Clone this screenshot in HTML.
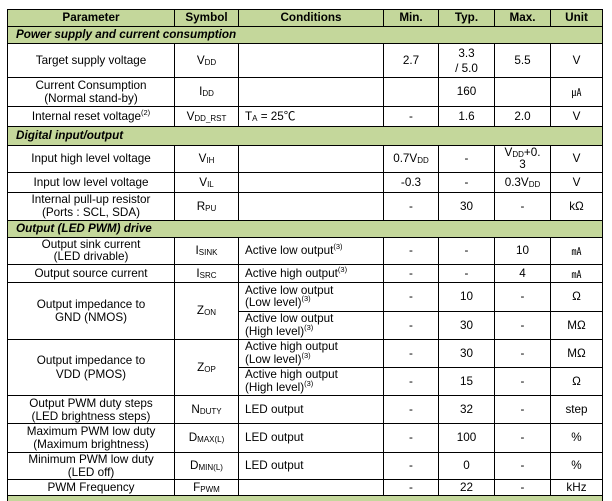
<!DOCTYPE html>
<html><head><meta charset="utf-8"><style>
html,body{margin:0;padding:0;background:#fff;}
#c{position:relative;width:612px;height:501px;overflow:hidden;background:#fff;}
.g{position:absolute;background:#c4d79b;}
.h{position:absolute;height:1px;background:#000;}
.v{position:absolute;width:1px;background:#000;}
.t{position:absolute;display:flex;align-items:center;justify-content:center;text-align:center;font-family:"Liberation Sans","Noto Sans CJK JP",sans-serif;font-size:11.7px;line-height:13.5px;color:#000;white-space:nowrap;}
.l{justify-content:flex-start;text-align:left;padding-left:6px;box-sizing:border-box;}
.b{font-weight:bold;}
.s{font-weight:bold;font-style:italic;justify-content:flex-start;padding-left:8px;box-sizing:border-box;}
sub{font-size:8px;vertical-align:-1px;line-height:0;}
sup{font-size:7.5px;vertical-align:5px;line-height:0;}
.u{font-family:"Noto Sans CJK JP",sans-serif;font-size:10px;}
</style></head><body><div id="c">
<!-- green fills -->
<div class="g" style="left:7px;top:9px;width:596px;height:17px"></div>
<div class="g" style="left:7px;top:26px;width:596px;height:17px"></div>
<div class="g" style="left:7px;top:126px;width:596px;height:19px"></div>
<div class="g" style="left:7px;top:220px;width:596px;height:17px"></div>
<div class="g" style="left:7px;top:495px;width:596px;height:6px"></div>
<!-- horizontal lines -->
<div class="h" style="left:7px;width:596px;top:9px"></div>
<div class="h" style="left:7px;width:596px;top:26px"></div>
<div class="h" style="left:7px;width:596px;top:43px"></div>
<div class="h" style="left:7px;width:596px;top:77px"></div>
<div class="h" style="left:7px;width:596px;top:106px"></div>
<div class="h" style="left:7px;width:596px;top:126px"></div>
<div class="h" style="left:7px;width:596px;top:145px"></div>
<div class="h" style="left:7px;width:596px;top:172px"></div>
<div class="h" style="left:7px;width:596px;top:192px"></div>
<div class="h" style="left:7px;width:596px;top:220px"></div>
<div class="h" style="left:7px;width:596px;top:237px"></div>
<div class="h" style="left:7px;width:596px;top:264px"></div>
<div class="h" style="left:7px;width:596px;top:282px"></div>
<div class="h" style="left:238px;width:365px;top:311px"></div>
<div class="h" style="left:7px;width:596px;top:339px"></div>
<div class="h" style="left:238px;width:365px;top:367px"></div>
<div class="h" style="left:7px;width:596px;top:395px"></div>
<div class="h" style="left:7px;width:596px;top:423px"></div>
<div class="h" style="left:7px;width:596px;top:452px"></div>
<div class="h" style="left:7px;width:596px;top:479px"></div>
<div class="h" style="left:7px;width:596px;top:495px"></div>
<!-- outer verticals -->
<div class="v" style="left:7px;top:9px;height:492px"></div>
<div class="v" style="left:602px;top:9px;height:492px"></div>
<!-- inner verticals -->
<div class="v" style="left:174px;top:9px;height:17px"></div>
<div class="v" style="left:238px;top:9px;height:17px"></div>
<div class="v" style="left:383px;top:9px;height:17px"></div>
<div class="v" style="left:438px;top:9px;height:17px"></div>
<div class="v" style="left:494px;top:9px;height:17px"></div>
<div class="v" style="left:550px;top:9px;height:17px"></div>

<div class="v" style="left:174px;top:43px;height:83px"></div>
<div class="v" style="left:238px;top:43px;height:83px"></div>
<div class="v" style="left:383px;top:43px;height:83px"></div>
<div class="v" style="left:438px;top:43px;height:83px"></div>
<div class="v" style="left:494px;top:43px;height:83px"></div>
<div class="v" style="left:550px;top:43px;height:83px"></div>

<div class="v" style="left:174px;top:145px;height:75px"></div>
<div class="v" style="left:238px;top:145px;height:75px"></div>
<div class="v" style="left:383px;top:145px;height:75px"></div>
<div class="v" style="left:438px;top:145px;height:75px"></div>
<div class="v" style="left:494px;top:145px;height:75px"></div>
<div class="v" style="left:550px;top:145px;height:75px"></div>

<div class="v" style="left:174px;top:237px;height:258px"></div>
<div class="v" style="left:238px;top:237px;height:258px"></div>
<div class="v" style="left:383px;top:237px;height:258px"></div>
<div class="v" style="left:438px;top:237px;height:258px"></div>
<div class="v" style="left:494px;top:237px;height:258px"></div>
<div class="v" style="left:550px;top:237px;height:258px"></div>

<!-- header -->
<div class="t b" style="left:8px;top:10px;width:166px;height:16px">Parameter</div>
<div class="t b" style="left:175px;top:10px;width:63px;height:16px">Symbol</div>
<div class="t b" style="left:239px;top:10px;width:144px;height:16px">Conditions</div>
<div class="t b" style="left:384px;top:10px;width:54px;height:16px">Min.</div>
<div class="t b" style="left:439px;top:10px;width:55px;height:16px">Typ.</div>
<div class="t b" style="left:495px;top:10px;width:55px;height:16px">Max.</div>
<div class="t b" style="left:551px;top:10px;width:51px;height:16px">Unit</div>

<!-- section 1 -->
<div class="t s" style="left:8px;top:27px;width:594px;height:16px">Power supply and current consumption</div>

<!-- Target supply -->
<div class="t" style="left:8px;top:44px;width:166px;height:33px">Target supply voltage</div>
<div class="t" style="left:175px;top:44px;width:63px;height:33px"><span>V<sub>DD</sub></span></div>
<div class="t" style="left:384px;top:44px;width:54px;height:33px">2.7</div>
<div class="t" style="left:439px;top:44px;width:55px;height:33px;line-height:15px">3.3<br>/ 5.0</div>
<div class="t" style="left:495px;top:44px;width:55px;height:33px">5.5</div>
<div class="t" style="left:551px;top:44px;width:51px;height:33px">V</div>

<!-- Current consumption -->
<div class="t" style="left:8px;top:78px;width:166px;height:28px">Current Consumption<br>(Normal stand-by)</div>
<div class="t" style="left:175px;top:78px;width:63px;height:28px"><span>I<sub>DD</sub></span></div>
<div class="t" style="left:439px;top:78px;width:55px;height:28px">160</div>
<div class="t" style="left:551px;top:78px;width:51px;height:28px"><span class="u">㎂</span></div>

<!-- reset -->
<div class="t" style="left:8px;top:107px;width:166px;height:19px"><span>Internal reset voltage<sup>(2)</sup></span></div>
<div class="t" style="left:175px;top:107px;width:63px;height:19px"><span>V<sub>DD_RST</sub></span></div>
<div class="t l" style="left:239px;top:107px;width:144px;height:19px"><span>T<sub>A</sub> = 25℃</span></div>
<div class="t" style="left:384px;top:107px;width:54px;height:19px">-</div>
<div class="t" style="left:439px;top:107px;width:55px;height:19px">1.6</div>
<div class="t" style="left:495px;top:107px;width:55px;height:19px">2.0</div>
<div class="t" style="left:551px;top:107px;width:51px;height:19px">V</div>

<!-- section 2 -->
<div class="t s" style="left:8px;top:127px;width:594px;height:18px">Digital input/output</div>

<!-- VIH -->
<div class="t" style="left:8px;top:146px;width:166px;height:26px">Input high level voltage</div>
<div class="t" style="left:175px;top:146px;width:63px;height:26px"><span>V<sub>IH</sub></span></div>
<div class="t" style="left:384px;top:146px;width:54px;height:26px"><span>0.7V<sub>DD</sub></span></div>
<div class="t" style="left:439px;top:146px;width:55px;height:26px">-</div>
<div class="t" style="left:495px;top:146px;width:55px;height:26px;line-height:12px"><span>V<sub>DD</sub>+0.<br>3</span></div>
<div class="t" style="left:551px;top:146px;width:51px;height:26px">V</div>

<!-- VIL -->
<div class="t" style="left:8px;top:173px;width:166px;height:19px">Input low level voltage</div>
<div class="t" style="left:175px;top:173px;width:63px;height:19px"><span>V<sub>IL</sub></span></div>
<div class="t" style="left:384px;top:173px;width:54px;height:19px">-0.3</div>
<div class="t" style="left:439px;top:173px;width:55px;height:19px">-</div>
<div class="t" style="left:495px;top:173px;width:55px;height:19px"><span>0.3V<sub>DD</sub></span></div>
<div class="t" style="left:551px;top:173px;width:51px;height:19px">V</div>

<!-- RPU -->
<div class="t" style="left:8px;top:193px;width:166px;height:27px;line-height:12.5px">Internal pull-up resistor<br>(Ports : SCL, SDA)</div>
<div class="t" style="left:175px;top:193px;width:63px;height:27px"><span>R<sub>PU</sub></span></div>
<div class="t" style="left:384px;top:193px;width:54px;height:27px">-</div>
<div class="t" style="left:439px;top:193px;width:55px;height:27px">30</div>
<div class="t" style="left:495px;top:193px;width:55px;height:27px">-</div>
<div class="t" style="left:551px;top:193px;width:51px;height:27px">kΩ</div>

<!-- section 3 -->
<div class="t s" style="left:8px;top:221px;width:594px;height:16px">Output (LED PWM) drive</div>

<!-- ISINK -->
<div class="t" style="left:8px;top:238px;width:166px;height:26px;line-height:12.5px">Output sink current<br>(LED drivable)</div>
<div class="t" style="left:175px;top:238px;width:63px;height:26px"><span>I<sub>SINK</sub></span></div>
<div class="t l" style="left:239px;top:238px;width:144px;height:26px"><span>Active low output<sup>(3)</sup></span></div>
<div class="t" style="left:384px;top:238px;width:54px;height:26px">-</div>
<div class="t" style="left:439px;top:238px;width:55px;height:26px">-</div>
<div class="t" style="left:495px;top:238px;width:55px;height:26px">10</div>
<div class="t" style="left:551px;top:238px;width:51px;height:26px"><span class="u">㎃</span></div>

<!-- ISRC -->
<div class="t" style="left:8px;top:265px;width:166px;height:17px">Output source current</div>
<div class="t" style="left:175px;top:265px;width:63px;height:17px"><span>I<sub>SRC</sub></span></div>
<div class="t l" style="left:239px;top:265px;width:144px;height:17px"><span>Active high output<sup>(3)</sup></span></div>
<div class="t" style="left:384px;top:265px;width:54px;height:17px">-</div>
<div class="t" style="left:439px;top:265px;width:55px;height:17px">-</div>
<div class="t" style="left:495px;top:265px;width:55px;height:17px">4</div>
<div class="t" style="left:551px;top:265px;width:51px;height:17px"><span class="u">㎃</span></div>

<!-- ZON -->
<div class="t" style="left:8px;top:283px;width:166px;height:56px">Output impedance to<br>GND (NMOS)</div>
<div class="t" style="left:175px;top:283px;width:63px;height:56px"><span>Z<sub>ON</sub></span></div>
<div class="t l" style="left:239px;top:283px;width:144px;height:28px;line-height:12.5px"><span>Active low output<br>(Low level)<sup>(3)</sup></span></div>
<div class="t" style="left:384px;top:283px;width:54px;height:28px">-</div>
<div class="t" style="left:439px;top:283px;width:55px;height:28px">10</div>
<div class="t" style="left:495px;top:283px;width:55px;height:28px">-</div>
<div class="t" style="left:551px;top:283px;width:51px;height:28px">Ω</div>
<div class="t l" style="left:239px;top:312px;width:144px;height:27px;line-height:12.5px"><span>Active low output<br>(High level)<sup>(3)</sup></span></div>
<div class="t" style="left:384px;top:312px;width:54px;height:27px">-</div>
<div class="t" style="left:439px;top:312px;width:55px;height:27px">30</div>
<div class="t" style="left:495px;top:312px;width:55px;height:27px">-</div>
<div class="t" style="left:551px;top:312px;width:51px;height:27px">MΩ</div>

<!-- ZOP -->
<div class="t" style="left:8px;top:340px;width:166px;height:55px">Output impedance to<br>VDD (PMOS)</div>
<div class="t" style="left:175px;top:340px;width:63px;height:55px"><span>Z<sub>OP</sub></span></div>
<div class="t l" style="left:239px;top:340px;width:144px;height:27px;line-height:12.5px"><span>Active high output<br>(Low level)<sup>(3)</sup></span></div>
<div class="t" style="left:384px;top:340px;width:54px;height:27px">-</div>
<div class="t" style="left:439px;top:340px;width:55px;height:27px">30</div>
<div class="t" style="left:495px;top:340px;width:55px;height:27px">-</div>
<div class="t" style="left:551px;top:340px;width:51px;height:27px">MΩ</div>
<div class="t l" style="left:239px;top:368px;width:144px;height:27px;line-height:12.5px"><span>Active high output<br>(High level)<sup>(3)</sup></span></div>
<div class="t" style="left:384px;top:368px;width:54px;height:27px">-</div>
<div class="t" style="left:439px;top:368px;width:55px;height:27px">15</div>
<div class="t" style="left:495px;top:368px;width:55px;height:27px">-</div>
<div class="t" style="left:551px;top:368px;width:51px;height:27px">Ω</div>

<!-- NDUTY -->
<div class="t" style="left:8px;top:396px;width:166px;height:27px;line-height:13px">Output PWM duty steps<br>(LED brightness steps)</div>
<div class="t" style="left:175px;top:396px;width:63px;height:27px"><span>N<sub>DUTY</sub></span></div>
<div class="t l" style="left:239px;top:396px;width:144px;height:27px">LED output</div>
<div class="t" style="left:384px;top:396px;width:54px;height:27px">-</div>
<div class="t" style="left:439px;top:396px;width:55px;height:27px">32</div>
<div class="t" style="left:495px;top:396px;width:55px;height:27px">-</div>
<div class="t" style="left:551px;top:396px;width:51px;height:27px">step</div>

<!-- DMAX -->
<div class="t" style="left:8px;top:424px;width:166px;height:28px;line-height:13px">Maximum PWM low duty<br>(Maximum brightness)</div>
<div class="t" style="left:175px;top:424px;width:63px;height:28px"><span>D<sub>MAX(L)</sub></span></div>
<div class="t l" style="left:239px;top:424px;width:144px;height:28px">LED output</div>
<div class="t" style="left:384px;top:424px;width:54px;height:28px">-</div>
<div class="t" style="left:439px;top:424px;width:55px;height:28px">100</div>
<div class="t" style="left:495px;top:424px;width:55px;height:28px">-</div>
<div class="t" style="left:551px;top:424px;width:51px;height:28px">%</div>

<!-- DMIN -->
<div class="t" style="left:8px;top:453px;width:166px;height:26px;line-height:13px">Minimum PWM low duty<br>(LED off)</div>
<div class="t" style="left:175px;top:453px;width:63px;height:26px"><span>D<sub>MIN(L)</sub></span></div>
<div class="t l" style="left:239px;top:453px;width:144px;height:26px">LED output</div>
<div class="t" style="left:384px;top:453px;width:54px;height:26px">-</div>
<div class="t" style="left:439px;top:453px;width:55px;height:26px">0</div>
<div class="t" style="left:495px;top:453px;width:55px;height:26px">-</div>
<div class="t" style="left:551px;top:453px;width:51px;height:26px">%</div>

<!-- FPWM -->
<div class="t" style="left:8px;top:480px;width:166px;height:15px">PWM Frequency</div>
<div class="t" style="left:175px;top:480px;width:63px;height:15px"><span>F<sub>PWM</sub></span></div>
<div class="t" style="left:384px;top:480px;width:54px;height:15px">-</div>
<div class="t" style="left:439px;top:480px;width:55px;height:15px">22</div>
<div class="t" style="left:495px;top:480px;width:55px;height:15px">-</div>
<div class="t" style="left:551px;top:480px;width:51px;height:15px">kHz</div>
</div></body></html>
